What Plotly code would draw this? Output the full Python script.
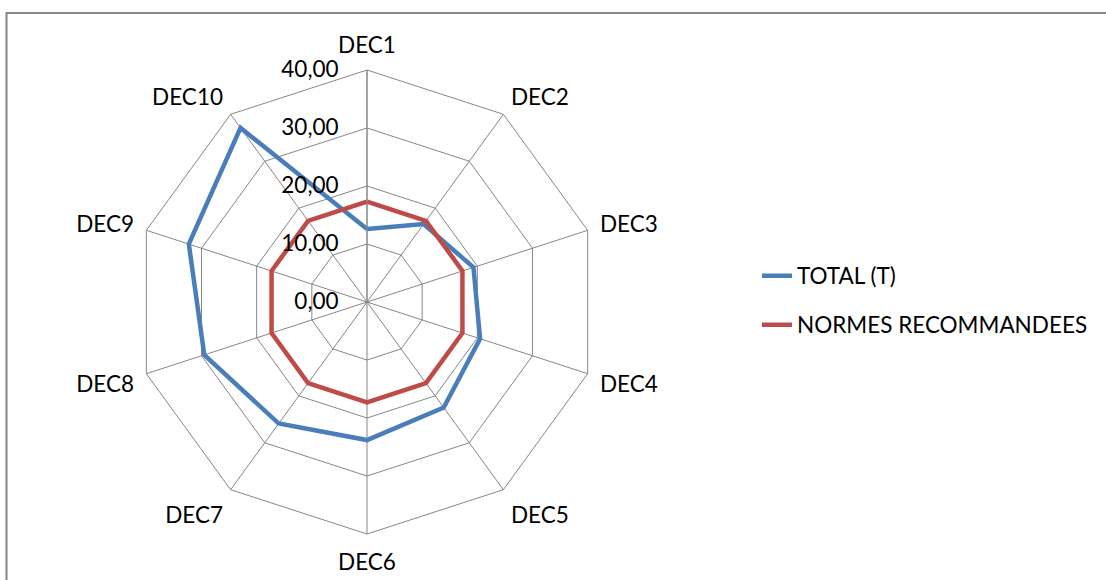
import plotly.graph_objects as go

categories = ["DEC1", "DEC2", "DEC3", "DEC4", "DEC5", "DEC6", "DEC7", "DEC8", "DEC9", "DEC10"]
total_t = [12.6, 16.6, 19.3, 20.5, 22.5, 23.8, 25.9, 29.5, 32.3, 37.1]
normes = [17.3, 17.3, 17.3, 17.3, 17.3, 17.3, 17.3, 17.3, 17.3, 17.3]
tick_vals = [0, 10, 20, 30, 40]

W, H = 1106, 580
cx, cy, R = 367, 302, 232
FONT = "Lato"
FS = 22.5

fig = go.Figure()
fig.add_trace(go.Scatterpolar(
    r=total_t + total_t[:1], theta=categories + categories[:1],
    mode="lines", name="TOTAL (T)",
    line=dict(color="#4A7EBB", width=4.5), legend="legend"))
fig.add_trace(go.Scatterpolar(
    r=normes + normes[:1], theta=categories + categories[:1],
    mode="lines", name="NORMES RECOMMANDEES",
    line=dict(color="#BE4B48", width=4.5), legend="legend2"))

grid = "#868686"
fig.update_layout(
    width=W, height=H,
    margin=dict(l=0, r=0, t=0, b=0),
    paper_bgcolor="white",
    separators=", ",
    font=dict(family=FONT, size=FS, color="black"),
    polar=dict(
        domain=dict(x=[(cx - R) / W, (cx + R) / W],
                    y=[(H - cy - R) / H, (H - cy + R) / H]),
        bgcolor="white",
        gridshape="linear",
        angularaxis=dict(direction="clockwise", rotation=90,
                         linecolor=grid, linewidth=1, gridcolor=grid, gridwidth=1,
                         showline=True, ticks="outside", ticklen=8,
                         tickcolor="rgba(0,0,0,0)", tickfont=dict(size=FS)),
        radialaxis=dict(range=[0, 40], tickvals=tick_vals, tickformat=".2f",
                        angle=90, side="counterclockwise", tickangle=90,
                        linecolor=grid, linewidth=1, gridcolor=grid, gridwidth=1,
                        showline=True, ticks="outside", ticklen=20,
                        tickcolor="rgba(0,0,0,0)", tickfont=dict(size=FS)),
    ),
    showlegend=True,
    legend=dict(x=757 / W, y=1 - 276 / H, xanchor="left", yanchor="middle",
                bgcolor="rgba(0,0,0,0)", font=dict(size=FS)),
    legend2=dict(x=757 / W, y=1 - 325 / H, xanchor="left", yanchor="middle",
                 bgcolor="rgba(0,0,0,0)", font=dict(size=FS)),
    shapes=[dict(type="rect", xref="paper", yref="paper",
                 x0=6.5 / W, x1=1.02, y0=-0.05, y1=1 - 13 / H,
                 line=dict(color="#868686", width=2), layer="below")],
)

fig.write_html("out.html")
